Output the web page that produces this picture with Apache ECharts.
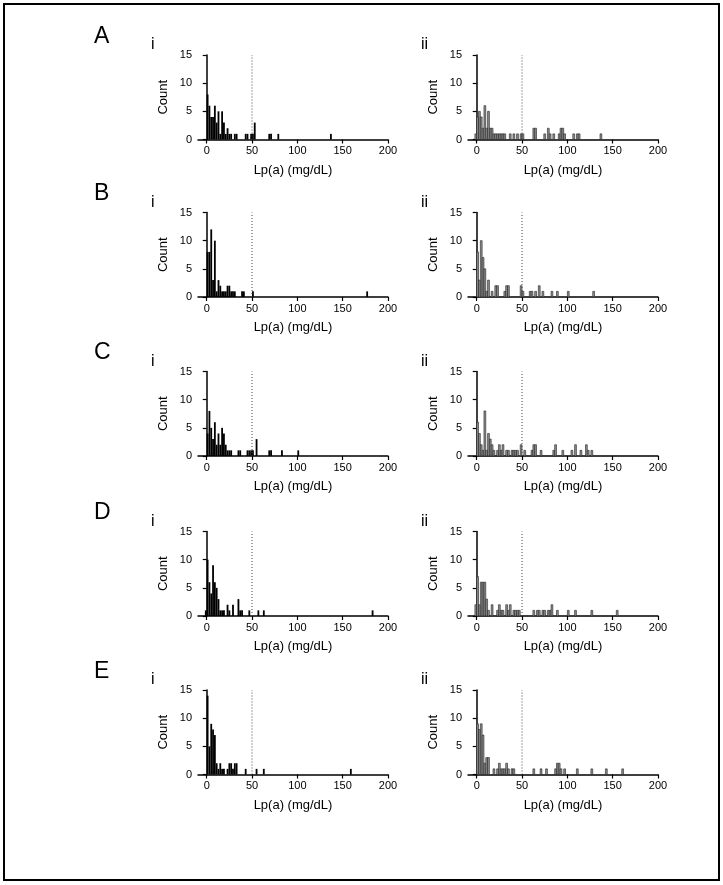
<!DOCTYPE html>
<html><head><meta charset="utf-8">
<script src="https://cdn.jsdelivr.net/npm/echarts@6/dist/echarts.min.js"></script>
<style>html,body{margin:0;padding:0;background:#fff}#c{width:723px;height:885px}</style>
</head><body><div id="c"></div>
<script>
const rowLetters = ['A','B','C','D','E'];
const colLabels = ['i','ii'];
const xTicks = [0,50,100,150,200];
const yMax = 15, yInterval = 5;
const cutoff = 50;
const binWidth = 2;
const xTitle = 'Lp(a) (mg/dL)';
const yTitle = 'Count';

// bin start (mg/dL) and count for each panel
const A_i_x = [0,2,4,6,8,10,12,14,16,18,20,22,24,26,30,32,42,44,48,50,52,68,70,78,136];
const A_i_n = [8,6,4,4,6,3,5,1,5,3,1,2,1,1,1,1,1,1,1,1,3,1,1,1,1];
const A_ii_x = [-2,0,2,4,6,8,10,12,14,16,18,20,22,24,26,28,30,36,40,44,48,50,62,64,74,78,80,84,90,92,94,96,106,110,112,136];
const A_ii_n = [1,4,5,4,2,6,2,5,2,2,1,1,1,1,1,1,1,1,1,1,1,1,2,2,1,2,1,1,1,2,2,1,1,1,1,1];

const B_i_x = [0,2,4,6,8,10,12,14,16,18,20,22,24,26,28,30,38,40,50,176];
const B_i_n = [8,8,12,3,10,1,3,2,1,1,1,2,2,1,1,1,1,1,1,1];
const B_ii_x = [0,2,4,6,8,10,12,16,20,22,30,32,34,48,50,58,60,64,68,72,82,88,100,128];
const B_ii_n = [8,3,10,7,5,1,3,1,2,2,1,2,2,2,1,1,1,1,2,1,1,1,1,1];

const C_i_x = [0,2,4,6,8,10,12,14,16,18,20,22,24,26,34,36,44,46,48,50,54,68,70,82,100];
const C_i_n = [4,8,5,3,6,2,4,2,5,4,2,1,1,1,1,1,1,1,1,1,3,1,1,1,1];
const C_ii_x = [0,2,4,6,8,10,12,14,16,18,22,24,26,28,32,34,38,40,42,44,48,52,60,62,64,70,84,86,94,104,108,114,120,122,126];
const C_ii_n = [6,4,2,1,8,1,4,3,2,1,1,2,1,2,1,1,1,1,1,1,2,1,1,2,2,1,1,2,1,1,2,1,2,1,1];

const D_i_x = [-2,0,2,4,6,8,10,12,14,16,18,22,24,28,34,36,38,46,56,62,182];
const D_i_n = [1,10,6,4,9,6,5,3,1,1,1,2,1,2,3,1,1,1,1,1,1];
const D_ii_x = [-2,0,2,4,6,8,10,12,16,22,24,26,28,32,34,36,40,42,44,46,62,66,68,72,74,78,80,82,88,100,108,126,154];
const D_ii_n = [2,7,2,6,6,6,3,1,2,1,2,1,1,2,1,2,1,1,1,1,1,1,1,1,1,1,1,2,1,1,1,1,1];

const E_i_x = [0,2,4,6,8,10,12,14,16,18,22,24,26,28,30,32,42,54,62,158];
const E_i_n = [14,5,9,8,7,2,1,2,1,1,1,2,2,1,2,2,1,1,1,1];
const E_ii_x = [0,2,4,6,8,10,12,18,22,24,26,28,30,32,34,38,40,62,70,76,86,88,90,92,96,110,126,142,160];
const E_ii_n = [9,8,9,7,2,3,3,1,1,2,1,1,1,2,1,1,1,1,1,1,1,2,2,1,1,1,1,1,1];

const panels = [
  [[A_i_x,A_i_n],[A_ii_x,A_ii_n]],
  [[B_i_x,B_i_n],[B_ii_x,B_ii_n]],
  [[C_i_x,C_i_n],[C_ii_x,C_ii_n]],
  [[D_i_x,D_i_n],[D_ii_x,D_ii_n]],
  [[E_i_x,E_i_n],[E_ii_x,E_ii_n]]
];

const FONT = "'Liberation Sans', Arial, sans-serif";
const gridTops = [55, 212.5, 371.5, 531.5, 690];
const gridLefts = [198, 468];
const gridW = 190, gridH = 84.5;
const xMin = -9.6;

const grids = [], xAxes = [], yAxes = [], series = [], graphics = [];
let gi = 0;
panels.forEach((row, r) => {
  graphics.push({type:'text', left: 94, top: gridTops[r] - 30,
    style:{text: rowLetters[r], font: "23px " + FONT, fill:'#000'}});
  row.forEach((pd, c) => {
    graphics.push({type:'text', left: gridLefts[c] - 47, top: gridTops[r] - 18,
      style:{text: colLabels[c], font: "16px " + FONT, fill:'#000'}});
    grids.push({left: gridLefts[c], top: gridTops[r], width: gridW, height: gridH});
    xAxes.push({
      gridIndex: gi, type:'value', min: xMin, max: 200,
      name: xTitle, nameLocation:'middle', nameGap: 24,
      nameTextStyle:{fontFamily: FONT, fontSize: 13, color:'#000'},
      axisLine:{lineStyle:{color:'#000', width:1.5}},
      axisTick:{show:true, length:4, customValues: xTicks, lineStyle:{color:'#000', width:1.2}},
      axisLabel:{customValues: xTicks, fontFamily: FONT, fontSize: 11, color:'#000', margin:6},
      splitLine:{show:false}
    });
    yAxes.push({
      gridIndex: gi, type:'value', min:0, max:yMax, interval:yInterval,
      name: yTitle, nameLocation:'middle', nameGap: 28,
      nameTextStyle:{fontFamily: FONT, fontSize: 13, color:'#000'},
      axisLine:{show:true, lineStyle:{color:'#000', width:1.5}},
      axisTick:{show:true, length:4, lineStyle:{color:'#000', width:1.2}},
      axisLabel:{fontFamily: FONT, fontSize: 11, color:'#000', margin:6},
      splitLine:{show:false}
    });
    const data = pd[0].map((x, k) => [x, pd[1][k]]);
    const filled = c === 0;
    series.push({
      type:'custom', xAxisIndex: gi, yAxisIndex: gi, data: data,
      encode:{x:0, y:1}, silent:true,
      renderItem: function(params, api){
        const x0 = api.value(0), n = api.value(1);
        const p0 = api.coord([x0, 0]);
        const p1 = api.coord([x0 + binWidth, n]);
        return {type:'rect',
          shape:{x:p0[0], y:p1[1], width:p1[0]-p0[0], height:p0[1]-p1[1]},
          style: filled ? {fill:'#000'} : {fill:'#8f8f8f', stroke:'#222', lineWidth:0.6}};
      }
    });
    series.push({
      type:'line', xAxisIndex: gi, yAxisIndex: gi, symbol:'none', silent:true,
      data:[[cutoff,0],[cutoff,yMax]],
      lineStyle:{color:'#444', width:1, type:[1,2]}
    });
    gi++;
  });
});
graphics.push({type:'rect', shape:{x:4, y:4, width:715, height:876},
  style:{fill:'none', stroke:'#000', lineWidth:2}});

const chart = echarts.init(document.getElementById('c'), null, {renderer:'canvas'});
chart.setOption({
  animation:false, backgroundColor:'#fff',
  grid: grids, xAxis: xAxes, yAxis: yAxes, series: series, graphic: graphics
});
</script></body></html>
